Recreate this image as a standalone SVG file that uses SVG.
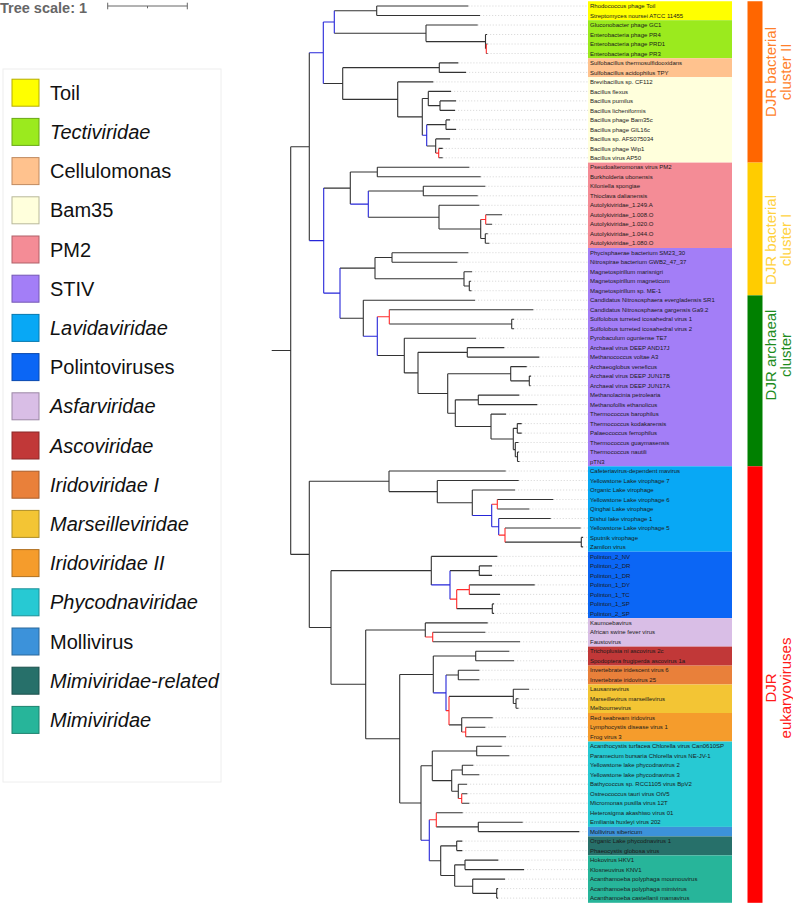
<svg xmlns="http://www.w3.org/2000/svg" width="793" height="906" viewBox="0 0 793 906">
<style>
.lf{font-family:"Liberation Sans",Arial,sans-serif;font-size:6px;fill:#1a1a1a}
.lg{font-family:"Liberation Sans",Arial,sans-serif;font-size:20px;fill:#111}
.it{font-style:italic}
.sq{stroke-width:1}
.br{fill:none;stroke:#333;stroke-width:1.1}
.bb{fill:none;stroke:#2626d9;stroke-width:1.1}
.bred{fill:none;stroke:#ff2a2a;stroke-width:1.1}
.dot{fill:none;stroke:#c4c4c4;stroke-width:0.6;stroke-dasharray:1.2 1.8}
.cl{font-family:"Liberation Sans",Arial,sans-serif;font-size:15px;text-anchor:middle}
</style>
<rect width="793" height="906" fill="#fff"/>

<g id="tree-scale">
<text x="0" y="12.5" style="font-family:'Liberation Sans',Arial,sans-serif;font-size:14.5px;font-weight:bold;fill:#666">Tree scale: 1</text>
<path d="M107.7 6H187.3M107.7 2.7V9.3M187.3 2.7V9.3M147.5 6V8.3" fill="none" stroke="#666" stroke-width="1"/>
</g>

<g id="legend">
<rect x="3" y="69" width="218" height="713" fill="#fff" stroke="#eeeeee" stroke-width="1"/>
<g id="lg-toil"><rect class="sq" x="12" y="79.2" width="27" height="27" fill="#ffff00" stroke="#b5ad00"/><text class="lg" x="50" y="99.7">Toil</text></g>
<g id="lg-tect"><rect class="sq" x="12" y="118.4" width="27" height="27" fill="#9bea1e" stroke="#6aa814"/><text class="lg it" x="50" y="138.9">Tectiviridae</text></g>
<g id="lg-cell"><rect class="sq" x="12" y="157.6" width="27" height="27" fill="#ffc28e" stroke="#c08a60"/><text class="lg" x="50" y="178.1">Cellulomonas</text></g>
<g id="lg-bam"><rect class="sq" x="12" y="196.8" width="27" height="27" fill="#ffffdc" stroke="#b8b89a"/><text class="lg" x="50" y="217.3">Bam35</text></g>
<g id="lg-pm2"><rect class="sq" x="12" y="236" width="27" height="27" fill="#f48c96" stroke="#b06068"/><text class="lg" x="50" y="256.5">PM2</text></g>
<g id="lg-stiv"><rect class="sq" x="12" y="275.2" width="27" height="27" fill="#a37ef7" stroke="#7458b4"/><text class="lg" x="50" y="295.7">STIV</text></g>
<g id="lg-lavi"><rect class="sq" x="12" y="314.4" width="27" height="27" fill="#08a8f5" stroke="#0678ae"/><text class="lg it" x="50" y="334.9">Lavidaviridae</text></g>
<g id="lg-poli"><rect class="sq" x="12" y="353.6" width="27" height="27" fill="#0b66f5" stroke="#0848ae"/><text class="lg" x="50" y="374.1">Polintoviruses</text></g>
<g id="lg-asfa"><rect class="sq" x="12" y="392.8" width="27" height="27" fill="#d9bee6" stroke="#9c88a6"/><text class="lg it" x="50" y="413.3">Asfarviridae</text></g>
<g id="lg-asco"><rect class="sq" x="12" y="432" width="27" height="27" fill="#c13838" stroke="#8a2828"/><text class="lg it" x="50" y="452.5">Ascoviridae</text></g>
<g id="lg-iri1"><rect class="sq" x="12" y="471.2" width="27" height="27" fill="#e9803a" stroke="#a85c2a"/><text class="lg it" x="50" y="491.7">Iridoviridae I</text></g>
<g id="lg-mars"><rect class="sq" x="12" y="510.4" width="27" height="27" fill="#f3c534" stroke="#ae8e26"/><text class="lg it" x="50" y="530.9">Marseilleviridae</text></g>
<g id="lg-iri2"><rect class="sq" x="12" y="549.6" width="27" height="27" fill="#f59c2c" stroke="#b07020"/><text class="lg it" x="50" y="570.1">Iridoviridae II</text></g>
<g id="lg-phyc"><rect class="sq" x="12" y="588.8" width="27" height="27" fill="#27c9d3" stroke="#1c9098"/><text class="lg it" x="50" y="609.3">Phycodnaviridae</text></g>
<g id="lg-moll"><rect class="sq" x="12" y="628" width="27" height="27" fill="#3c92da" stroke="#2a689c"/><text class="lg" x="50" y="648.5">Mollivirus</text></g>
<g id="lg-mimr"><rect class="sq" x="12" y="667.2" width="27" height="27" fill="#27706a" stroke="#1c504c"/><text class="lg it" x="50" y="687.7">Mimiviridae-related</text></g>
<g id="lg-mimi"><rect class="sq" x="12" y="706.4" width="27" height="27" fill="#27b59a" stroke="#1c826e"/><text class="lg it" x="50" y="726.9">Mimiviridae</text></g>
</g>

<g id="bands">
<rect x="588" y="1.25" width="144" height="19" fill="#ffff00"/>
<rect x="588" y="20.2" width="144" height="38" fill="#9bea1e"/>
<rect x="588" y="58.2" width="144" height="19" fill="#ffc28e"/>
<rect x="588" y="77.2" width="144" height="85.4" fill="#ffffdc"/>
<rect x="588" y="162.6" width="144" height="85.4" fill="#f48c96"/>
<rect x="588" y="248" width="144" height="218.3" fill="#a37ef7"/>
<rect x="588" y="466.3" width="144" height="85.4" fill="#08a8f5"/>
<rect x="588" y="551.7" width="144" height="66.4" fill="#0b66f5"/>
<rect x="588" y="618.1" width="144" height="28.5" fill="#d9bee6"/>
<rect x="588" y="646.6" width="144" height="19" fill="#c13838"/>
<rect x="588" y="665.6" width="144" height="18.9" fill="#e9803a"/>
<rect x="588" y="684.5" width="144" height="28.5" fill="#f3c534"/>
<rect x="588" y="713" width="144" height="28.5" fill="#f59c2c"/>
<rect x="588" y="741.5" width="144" height="85.4" fill="#27c9d3"/>
<rect x="588" y="826.9" width="144" height="9.5" fill="#3c92da"/>
<rect x="588" y="836.4" width="144" height="19" fill="#27706a"/>
<rect x="588" y="855.4" width="144" height="47.4" fill="#27b59a"/>
</g>

<g id="connectors">
<path class="dot" d="M468.3 6H588M480 15.5H588M477.7 25H588M487 34.5H588M487.5 44H588M487.5 53.5H588M458.3 62.9H588M466 72.4H588M433.3 81.9H588M451 91.4H588M456 100.9H588M455 110.4H588M450 119.9H588M456 129.4H588M450 138.9H588M442.7 148.4H588M442.7 157.8H588M469.3 167.3H588M480.7 176.8H588M485.3 186.3H588M477.7 195.8H588M479.3 205.3H588M502 214.8H588M492 224.3H588M487.7 233.8H588M489.3 243.3H588M468.3 252.7H588M457.3 262.2H588M472 271.7H588M471 281.2H588M471.5 290.7H588M475 300.2H588M533.3 309.7H588M514 319.2H588M514 328.7H588M476 338.2H588M504.3 347.6H588M539.3 357.1H588M526.7 366.6H588M531 376.1H588M530.5 385.6H588M519.3 395.1H588M537.3 404.6H588M506 414.1H588M521.7 423.6H588M521.7 433.1H588M518.5 442.5H588M519 452H588M519.5 461.5H588M505.7 471H588M518.7 480.5H588M515 490H588M553.3 499.5H588M529.3 509H588M550.7 518.5H588M580.7 528H588M583 537.4H588M583 546.9H588M497.3 556.4H588M492 565.9H588M492 575.4H588M534.7 584.9H588M500 594.4H588M494 603.9H588M494 613.4H588M487.7 622.9H588M485.3 632.3H588M520 641.8H588M509.3 651.3H588M514 660.8H588M479.3 670.3H588M479.3 679.8H588M529 689.3H588M518.5 698.8H588M518.5 708.3H588M492.7 717.8H588M485.3 727.2H588M506 736.7H588M501.7 746.2H588M509.3 755.7H588M473.3 765.2H588M479.3 774.7H588M467 784.2H588M467.3 793.7H588M469.3 803.2H588M462.7 812.7H588M522.7 822.2H588M579.3 831.6H588M462.3 841.1H588M462.3 850.6H588M498.3 860.1H588M524 869.6H588M505 879.1H588M498 888.6H588M498 898.1H588"/>
<path class="br" d="M271.7 350.55H290.7M290.7 146.7V554.4
M290.7 146.7H309.3M309.3 52.75V240.6
M334.3 10.75H376.7M376.7 6V15.5M376.7 6H468.3M376.7 15.5H480
M334.3 33.3H426M426 25V41.6M426 25H477.7
M426 41.6H485.5M485.5 34.5V48.75M485.5 34.5H487
M486.3 44H487.5M486.3 53.5H487.5
M323.3 83.5H342.7M342.7 67.65V99.4
M342.7 67.65H439.3M439.3 62.9V72.4M439.3 62.9H458.3M439.3 72.4H466
M342.7 99.4H397.7M397.7 81.9V116.9M397.7 81.9H433.3
M397.7 116.9H422.3M422.3 98.5V135.3
M422.3 98.5H428.3M428.3 91.4V105.65M428.3 91.4H451
M428.3 105.65H440M440 100.9V110.4M440 100.9H456M440 110.4H455
M426.7 124.65H446M446 119.9V129.4M446 119.9H450M446 129.4H456
M426.7 146H435.7M435.7 138.9V153.1M435.7 138.9H450
M438.7 148.4H442.7M438.7 157.8H442.7
M323.7 188.1H350.3M350.3 172.05V204.1
M350.3 172.05H377.3M377.3 167.3V176.8M377.3 167.3H469.3M377.3 176.8H480.7
M368.3 191.05H423.3M423.3 186.3V195.8M423.3 186.3H485.3M423.3 195.8H477.7
M368.3 217.2H439M439 205.3V229.05M439 205.3H479.3
M439 229.05H480.7M480.7 219.55V238.55
M485.7 214.8H502M485.7 224.3H492
M480.7 238.55H485.3M485.3 233.8V243.3M485.3 233.8H487.7M485.3 243.3H489.3
M340 268.1H375M375 257.45V278.8
M375 257.45H392M392 252.7V262.2M392 252.7H468.3M392 262.2H457.3
M375 278.8H464M464 271.7V285.95M464 271.7H472
M464 285.95H469.3M469.3 281.2V290.7M469.3 281.2H471M469.3 290.7H471.5
M340 318.2H363.3M363.3 300.2V336.2M363.3 300.2H475
M389.3 309.7H533.3
M389.3 323.95H511.7M511.7 319.2V328.7M511.7 319.2H514M511.7 328.7H514
M377.3 355.55H404.3M404.3 338.2V372.9M404.3 338.2H476
M404.3 372.9H418M418 352.35V393.45
M418 352.35H467.3M467.3 347.6V357.1M467.3 347.6H504.3M467.3 357.1H539.3
M418 393.45H447.7M447.7 373.7V413.2
M447.7 373.7H510.7M510.7 366.6V380.85M510.7 366.6H526.7
M510.7 380.85H529.3M529.3 376.1V385.6M529.3 376.1H531M529.3 385.6H530.5
M447.7 413.2H455.3M455.3 399.85V426.5
M455.3 399.85H478.3M478.3 395.1V404.6M478.3 395.1H519.3M478.3 404.6H537.3
M455.3 426.5H491M491 414.1V439M491 414.1H506
M491 439H513.3M513.3 428.35V449.6
M513.3 428.35H517.3M517.3 423.6V433.1M517.3 423.6H521.7M517.3 433.1H521.7
M513.3 449.6H515.3M515.3 442.5V456.75M515.3 442.5H518.5
M515.3 456.75H517.5M517.5 452V461.5M517.5 452H519M517.5 461.5H519.5
M290.7 554.4H309.3M309.3 481.3V627.5
M309.3 481.3H389M389 471V491.6M389 471H505.7
M389 491.6H437.3M437.3 480.5V502.75M437.3 480.5H518.7
M437.3 502.75H472.3M472.3 490V515.5M472.3 490H515
M497.3 499.5H553.3M497.3 509H529.3
M498.7 518.5H550.7
M505 528H580.7
M505 542.15H581.3M581.3 537.4V546.9M581.3 537.4H583M581.3 546.9H583
M309.3 627.5H331M331 570.65V684.3
M331 570.65H431.3M431.3 556.4V584.9M431.3 556.4H497.3
M450 570.65H479.3M479.3 565.9V575.4M479.3 565.9H492M479.3 575.4H492
M469.3 584.9H534.7M469.3 594.4H500
M456.7 608.65H492.3M492.3 603.9V613.4M492.3 603.9H494M492.3 613.4H494
M331 684.3H365.7M365.7 629.95V738.7
M365.7 629.95H425.3M425.3 622.9V637.05M425.3 622.9H487.7
M432.7 632.3H485.3M432.7 641.8H520
M365.7 738.7H399.7M399.7 674.45V803
M399.7 674.45H433.3M433.3 656.05V692.85
M433.3 656.05H475.7M475.7 651.3V660.8M475.7 651.3H509.3M475.7 660.8H514
M446 675.05H458.3M458.3 670.3V679.8M458.3 670.3H479.3M458.3 679.8H479.3
M449 696.4H513.3M513.3 689.3V703.55M513.3 689.3H529
M513.3 703.55H516M516 698.8V708.3M516 698.8H518.5M516 708.3H518.5
M449 724.9H461.7M461.7 717.8V731.95M461.7 717.8H492.7
M465.7 727.2H485.3M465.7 736.7H506
M399.7 803H421M421 765.8V840.25
M421 765.8H432.3M432.3 750.95V780.6
M432.3 750.95H476.7M476.7 746.2V755.7M476.7 746.2H501.7M476.7 755.7H509.3
M432.3 780.6H451.7M451.7 769.95V791.3
M451.7 769.95H462.3M462.3 765.2V774.7M462.3 765.2H473.3M462.3 774.7H479.3
M451.7 791.3H458.3M458.3 784.2V798.45M458.3 784.2H467
M461.7 793.7H467.3M461.7 803.2H469.3
M436.3 812.7H462.7
M436.3 826.9H478.3M478.3 822.2V831.6M478.3 822.2H522.7M478.3 831.6H579.3
M429.3 860.7H440.7M440.7 845.85V875.5
M440.7 845.85H456.7M456.7 841.1V850.6M456.7 841.1H462.3M456.7 850.6H462.3
M440.7 875.5H454.7M454.7 864.85V886.2
M454.7 864.85H465M465 860.1V869.6M465 860.1H498.3M465 869.6H524
M454.7 886.2H472.7M472.7 879.1V893.35M472.7 879.1H505
M472.7 893.35H496.7M496.7 888.6V898.1M496.7 888.6H498M496.7 898.1H498"/>
<path class="bb" d="M309.3 52.75H323.3M323.3 22V83.5
M323.3 22H334.3M334.3 10.75V33.3
M422.3 135.3H426.7M426.7 124.65V146
M309.3 240.6H323.7M323.7 188.1V293.15
M350.3 204.1H368.3M368.3 191.05V217.2
M323.7 293.15H340M340 268.1V318.2
M363.3 336.2H377.3M377.3 316.8V355.55
M472.3 515.5H491.7M491.7 504.25V526.8
M491.7 526.8H498.7M498.7 518.5V535.1
M431.3 584.9H450M450 570.65V599.15
M433.3 692.85H446M446 675.05V710.65
M421 840.25H429.3M429.3 819.8V860.7"/>
<path class="bred" d="M485.5 48.75H486.3M486.3 44V53.5
M435.7 153.1H438.7M438.7 148.4V157.8
M480.7 219.55H485.7M485.7 214.8V224.3
M377.3 316.8H389.3M389.3 309.7V323.95
M491.7 504.25H497.3M497.3 499.5V509
M498.7 535.1H505M505 528V542.15
M450 599.15H456.7M456.7 589.65V608.65
M456.7 589.65H469.3M469.3 584.9V594.4
M425.3 637.05H432.7M432.7 632.3V641.8
M446 710.65H449M449 696.4V724.9
M461.7 731.95H465.7M465.7 727.2V736.7
M458.3 798.45H461.7M461.7 793.7V803.2
M429.3 819.8H436.3M436.3 812.7V826.9"/>
</g>

<g id="leaves">
<text class="lf" x="590" y="8.1">Rhodococcus phage Toil</text>
<text class="lf" x="590" y="17.6">Streptomyces noursei ATCC 11455</text>
<text class="lf" x="590" y="27.1">Gluconobacter phage GC1</text>
<text class="lf" x="590" y="36.6">Enterobacteria phage PR4</text>
<text class="lf" x="590" y="46.1">Enterobacteria phage PRD1</text>
<text class="lf" x="590" y="55.6">Enterobacteria phage PR3</text>
<text class="lf" x="590" y="65">Sulfobacillus thermosulfidooxidans</text>
<text class="lf" x="590" y="74.5">Sulfobacillus acidophilus TPY</text>
<text class="lf" x="590" y="84">Brevibacillus sp. CF112</text>
<text class="lf" x="590" y="93.5">Bacillus flexus</text>
<text class="lf" x="590" y="103">Bacillus pumilus</text>
<text class="lf" x="590" y="112.5">Bacillus licheniformis</text>
<text class="lf" x="590" y="122">Bacillus phage Bam35c</text>
<text class="lf" x="590" y="131.5">Bacillus phage GIL16c</text>
<text class="lf" x="590" y="141">Bacillus sp. AFS075034</text>
<text class="lf" x="590" y="150.5">Bacillus phage Wip1</text>
<text class="lf" x="590" y="159.9">Bacillus virus AP50</text>
<text class="lf" x="590" y="169.4">Pseudoalteromonas virus PM2</text>
<text class="lf" x="590" y="178.9">Burkholderia ubonensis</text>
<text class="lf" x="590" y="188.4">Kiloniella spongiae</text>
<text class="lf" x="590" y="197.9">Thioclava dalianensis</text>
<text class="lf" x="590" y="207.4">Autolykiviridae_1.249.A</text>
<text class="lf" x="590" y="216.9">Autolykiviridae_1.008.O</text>
<text class="lf" x="590" y="226.4">Autolykiviridae_1.020.O</text>
<text class="lf" x="590" y="235.9">Autolykiviridae_1.044.O</text>
<text class="lf" x="590" y="245.4">Autolykiviridae_1.080.O</text>
<text class="lf" x="590" y="254.8">Phycisphaerae bacterium SM23_30</text>
<text class="lf" x="590" y="264.3">Nitrospirae bacterium GWB2_47_37</text>
<text class="lf" x="590" y="273.8">Magnetospirillum marisnigri</text>
<text class="lf" x="590" y="283.3">Magnetospirillum magneticum</text>
<text class="lf" x="590" y="292.8">Magnetospirillum sp. ME-1</text>
<text class="lf" x="590" y="302.3">Candidatus Nitrososphaera evergladensis SR1</text>
<text class="lf" x="590" y="311.8">Candidatus Nitrososphaera gargensis Ga9.2</text>
<text class="lf" x="590" y="321.3">Sulfolobus turreted icosahedral virus 1</text>
<text class="lf" x="590" y="330.8">Sulfolobus turreted icosahedral virus 2</text>
<text class="lf" x="590" y="340.3">Pyrobaculum oguniense TE7</text>
<text class="lf" x="590" y="349.7">Archaeal virus DEEP AND17J</text>
<text class="lf" x="590" y="359.2">Methanococcus voltae A3</text>
<text class="lf" x="590" y="368.7">Archaeoglobus veneficus</text>
<text class="lf" x="590" y="378.2">Archaeal virus DEEP JUN17B</text>
<text class="lf" x="590" y="387.7">Archaeal virus DEEP JUN17A</text>
<text class="lf" x="590" y="397.2">Methanolacinia petrolearia</text>
<text class="lf" x="590" y="406.7">Methanofollis ethanolicus</text>
<text class="lf" x="590" y="416.2">Thermococcus barophilus</text>
<text class="lf" x="590" y="425.7">Thermococcus kodakarensis</text>
<text class="lf" x="590" y="435.2">Palaeococcus ferrophilus</text>
<text class="lf" x="590" y="444.6">Thermococcus guaymasensis</text>
<text class="lf" x="590" y="454.1">Thermococcus nautili</text>
<text class="lf" x="590" y="463.6">pTN3</text>
<text class="lf" x="590" y="473.1">Cafeteriavirus-dependent mavirus</text>
<text class="lf" x="590" y="482.6">Yellowstone Lake virophage 7</text>
<text class="lf" x="590" y="492.1">Organic Lake virophage</text>
<text class="lf" x="590" y="501.6">Yellowstone Lake virophage 6</text>
<text class="lf" x="590" y="511.1">Qinghai Lake virophage</text>
<text class="lf" x="590" y="520.6">Dishui lake virophage 1</text>
<text class="lf" x="590" y="530.1">Yellowstone Lake virophage 5</text>
<text class="lf" x="590" y="539.5">Sputnik virophage</text>
<text class="lf" x="590" y="549">Zamilon virus</text>
<text class="lf" x="590" y="558.5">Polinton_2_NV</text>
<text class="lf" x="590" y="568">Polinton_2_DR</text>
<text class="lf" x="590" y="577.5">Polinton_1_DR</text>
<text class="lf" x="590" y="587">Polinton_1_DY</text>
<text class="lf" x="590" y="596.5">Polinton_1_TC</text>
<text class="lf" x="590" y="606">Polinton_1_SP</text>
<text class="lf" x="590" y="615.5">Polinton_2_SP</text>
<text class="lf" x="590" y="625">Kaumoebavirus</text>
<text class="lf" x="590" y="634.4">African swine fever virus</text>
<text class="lf" x="590" y="643.9">Faustovirus</text>
<text class="lf" x="590" y="653.4">Trichoplusia ni ascovirus 2c</text>
<text class="lf" x="590" y="662.9">Spodoptera frugiperda ascovirus 1a</text>
<text class="lf" x="590" y="672.4">Invertebrate iridescent virus 6</text>
<text class="lf" x="590" y="681.9">Invertebrate iridovirus 25</text>
<text class="lf" x="590" y="691.4">Lausannevirus</text>
<text class="lf" x="590" y="700.9">Marseillevirus marseillevirus</text>
<text class="lf" x="590" y="710.4">Melbournevirus</text>
<text class="lf" x="590" y="719.9">Red seabream iridovirus</text>
<text class="lf" x="590" y="729.3">Lymphocystis disease virus 1</text>
<text class="lf" x="590" y="738.8">Frog virus 3</text>
<text class="lf" x="590" y="748.3">Acanthocystis turfacea Chlorella virus Can0610SP</text>
<text class="lf" x="590" y="757.8">Paramecium bursaria Chlorella virus NE-JV-1</text>
<text class="lf" x="590" y="767.3">Yellowstone lake phycodnavirus 2</text>
<text class="lf" x="590" y="776.8">Yellowstone lake phycodnavirus 3</text>
<text class="lf" x="590" y="786.3">Bathycoccus sp. RCC1105 virus BpV2</text>
<text class="lf" x="590" y="795.8">Ostreococcus tauri virus OtV5</text>
<text class="lf" x="590" y="805.3">Micromonas pusilla virus 12T</text>
<text class="lf" x="590" y="814.8">Heterosigma akashiwo virus 01</text>
<text class="lf" x="590" y="824.3">Emiliania huxleyi virus 202</text>
<text class="lf" x="590" y="833.7">Mollivirus sibericum</text>
<text class="lf" x="590" y="843.2">Organic Lake phycodnavirus 1</text>
<text class="lf" x="590" y="852.7">Phaeocystis globosa virus</text>
<text class="lf" x="590" y="862.2">Hokovirus HKV1</text>
<text class="lf" x="590" y="871.7">Klosneuvirus KNV1</text>
<text class="lf" x="590" y="881.2">Acanthamoeba polyphaga moumouvirus</text>
<text class="lf" x="590" y="890.7">Acanthamoeba polyphaga mimivirus</text>
<text class="lf" x="590" y="900.2">Acanthamoeba castellanii mamavirus</text>
</g>

<g id="cluster-bact-II">
<rect x="747.5" y="1.25" width="15" height="161.35" fill="#ff6600"/>
<text class="cl" fill="#ff7f2a" transform="translate(776 72) rotate(-90)">DJR bacterial</text>
<text class="cl" fill="#ff7f2a" transform="translate(791 72) rotate(-90)">cluster II</text>
</g>
<g id="cluster-bact-I">
<rect x="747.5" y="162.6" width="15" height="132.8" fill="#ffcc00"/>
<text class="cl" fill="#ffd23f" transform="translate(776 240) rotate(-90)">DJR bacterial</text>
<text class="cl" fill="#ffd23f" transform="translate(791 240) rotate(-90)">cluster I</text>
</g>
<g id="cluster-archaeal">
<rect x="747.5" y="295.4" width="15" height="170.9" fill="#008000"/>
<text class="cl" fill="#1e8c1e" transform="translate(776 355) rotate(-90)">DJR archaeal</text>
<text class="cl" fill="#1e8c1e" transform="translate(791 355) rotate(-90)">cluster</text>
</g>
<g id="cluster-eukaryo">
<rect x="747.5" y="466.3" width="15" height="436.5" fill="#ff0000"/>
<text class="cl" fill="#ff1a1a" transform="translate(776 688) rotate(-90)">DJR</text>
<text class="cl" fill="#ff1a1a" transform="translate(791 688) rotate(-90)">eukaryoviruses</text>
</g>
</svg>
